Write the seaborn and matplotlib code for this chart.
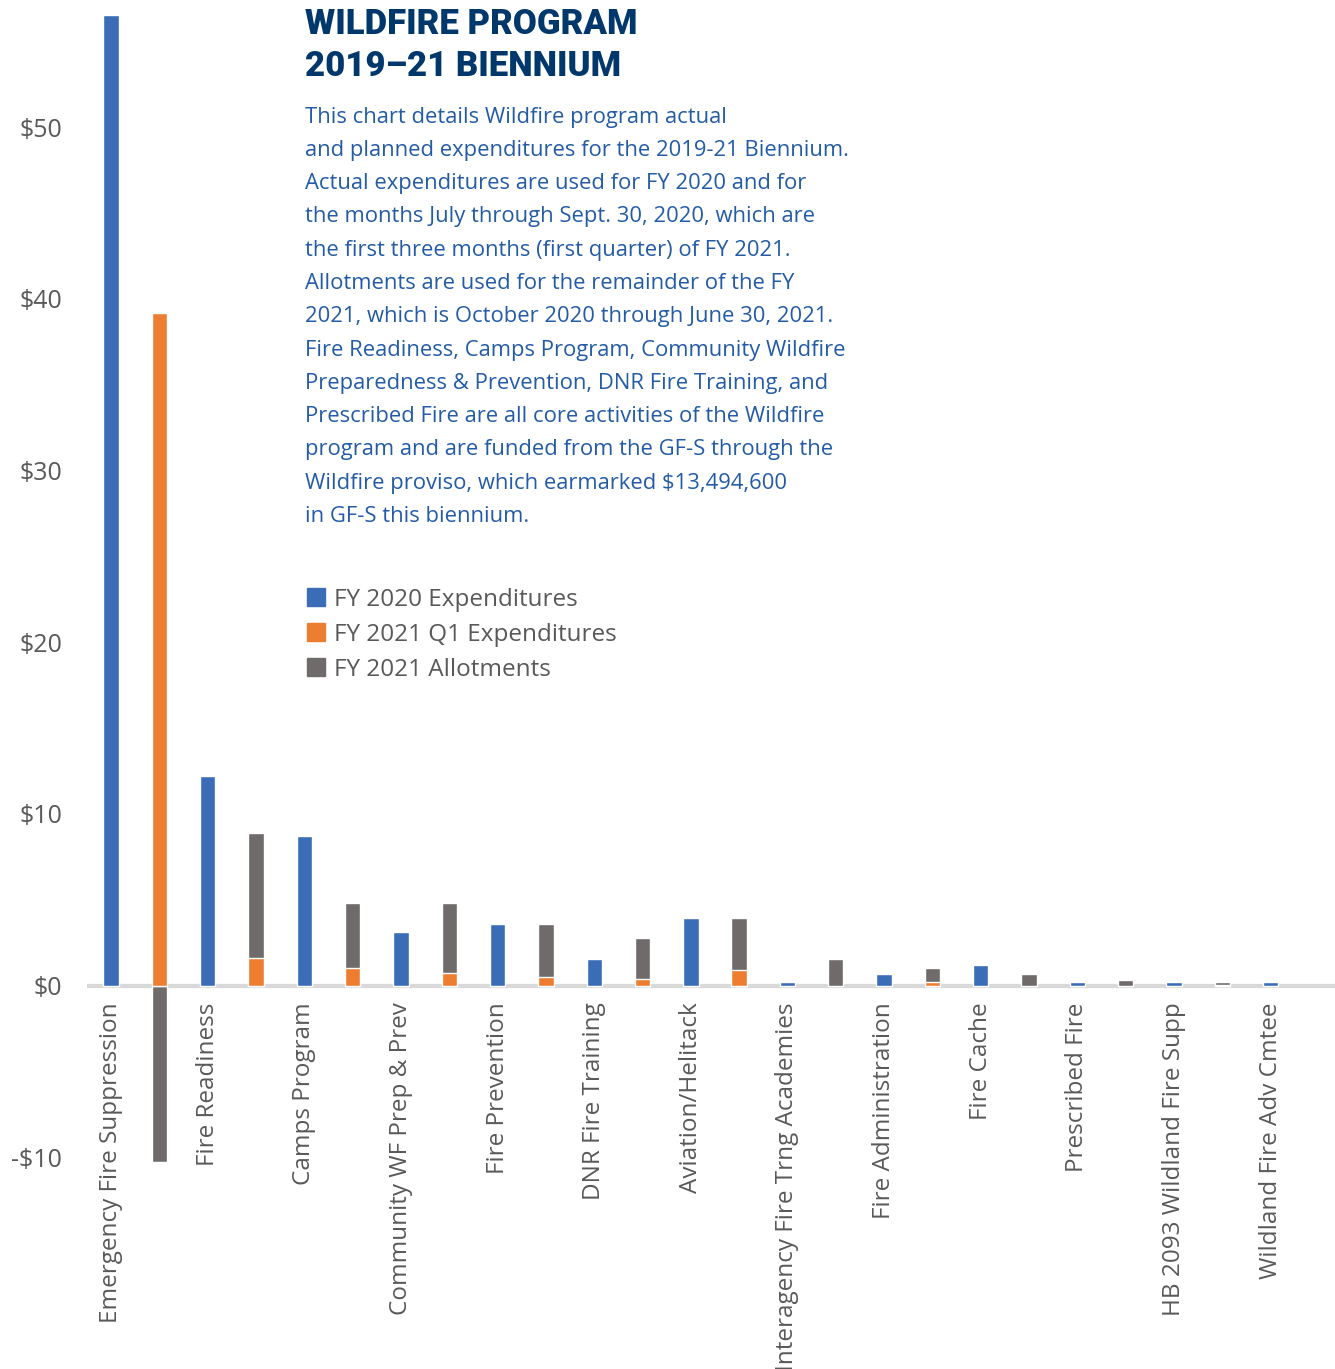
#grafico a barre del programma Wildfire (valori in milioni di dollari)
import matplotlib.pyplot as plt
import pandas as pd
import seaborn as sns
from matplotlib.patches import Patch

programs = ['Emergency Fire Suppression', 'Fire Readiness', 'Camps Program',
            'Community WF Prep & Prev', 'Fire Prevention', 'DNR Fire Training',
            'Aviation/Helitack', 'Interagency Fire Trng Academies',
            'Fire Administration', 'Fire Cache', 'Prescribed Fire',
            'HB 2093 Wildland Fire Supp', 'Wildland Fire Adv Cmtee']
fy2020 = [56.5, 12.2, 8.7, 3.1, 3.6, 1.55, 3.95, 0.2, 0.7, 1.2, 0.2, 0.2, 0.2]
fy2021_q1 = [39.2, 1.6, 1.05, 0.75, 0.5, 0.4, 0.9, 0.0, 0.2, 0.0, 0.0, 0.05, 0.0]
fy2021_allot = [-10.25, 7.3, 3.75, 4.05, 3.1, 2.35, 3.05, 1.55, 0.85, 0.7, 0.35, 0.15, 0.0]

blue = '#3b6db6'
orange = '#ed7d31'
gray = '#706b6b'

#ogni programma ha due posizioni: FY 2020 e FY 2021
slots = ['s%d' % i for i in range(2 * len(programs))]
rows = []
for i in range(len(programs)):
    allot = fy2021_allot[i]
    #allotments impilati sopra Q1 se positivi, altrimenti sotto lo zero
    total = fy2021_q1[i] + allot if allot >= 0 else allot
    rows.append({'slot': slots[2 * i], 'serie': 'FY 2020 Expenditures', 'valore': fy2020[i]})
    rows.append({'slot': slots[2 * i + 1], 'serie': 'FY 2021 Allotments', 'valore': total})
    rows.append({'slot': slots[2 * i + 1], 'serie': 'FY 2021 Q1 Expenditures', 'valore': fy2021_q1[i]})
df = pd.DataFrame(rows)

sns.set_style('white')
plt.rcParams['font.family'] = ['Open Sans', 'DejaVu Sans']

fig = plt.figure(figsize=(13.35, 13.69), dpi=100)
ax = fig.add_axes([87 / 1335, 1 - 1166 / 1369, 1256 / 1335, 1166 / 1369])

for serie, col in [('FY 2020 Expenditures', blue), ('FY 2021 Allotments', gray),
                   ('FY 2021 Q1 Expenditures', orange)]:
    sub = df[(df['serie'] == serie) & (df['valore'] != 0)]
    sns.barplot(data=sub, x='slot', y='valore', order=slots, color=col,
                width=0.32, saturation=1, ax=ax, errorbar=None)

ax.set_xlim(-0.5, len(slots) - 0.5)
ax.set_ylim(-10.5, 57.4)
ax.set_xlabel('')
ax.set_ylabel('')

#etichette asse x solo sotto le barre FY 2020, attaccate alla linea dello zero
ax.spines['bottom'].set_position(('data', 0))
ax.set_xticks(range(0, len(slots), 2))
ax.set_xticklabels(programs, rotation=90, fontsize=17.5, color='#595959')
yt = [-10, 0, 10, 20, 30, 40, 50]
ax.set_yticks(yt)
ax.set_yticklabels([('-\\$%d' % -v) if v < 0 else ('\\$%d' % v) for v in yt],
                   fontsize=18, color='#595959')
ax.tick_params(length=0)
ax.tick_params(axis='y', pad=18)
ax.tick_params(axis='x', pad=12)

for s in ax.spines.values():
    s.set_visible(False)
ax.axhline(0, color='#d9d9d9', lw=3, zorder=0.5)

#titolo e testo descrittivo
fig.text(305 / 1335, 1 - 25 / 1369, 'WILDFIRE PROGRAM', fontsize=25, fontweight='black',
         color='#00386b', va='center', family=['Roboto', 'DejaVu Sans'])
fig.text(305 / 1335, 1 - 66 / 1369, '2019\u201321 BIENNIUM', fontsize=25, fontweight='black',
         color='#00386b', va='center', family=['Roboto', 'DejaVu Sans'])

lines = ['This chart details Wildfire program actual',
         'and planned expenditures for the 2019-21 Biennium.',
         'Actual expenditures are used for FY 2020 and for',
         'the months July through Sept. 30, 2020, which are',
         'the first three months (first quarter) of FY 2021.',
         'Allotments are used for the remainder of the FY',
         '2021, which is October 2020 through June 30, 2021.',
         'Fire Readiness, Camps Program, Community Wildfire',
         'Preparedness & Prevention, DNR Fire Training, and',
         'Prescribed Fire are all core activities of the Wildfire',
         'program and are funded from the GF-S through the',
         'Wildfire proviso, which earmarked \\$13,494,600',
         'in GF-S this biennium.']
for i, line in enumerate(lines):
    fig.text(305 / 1335, 1 - (117 + i * 33.3) / 1369, line, fontsize=15.8,
             color='#235ba6', va='center')

handles = [Patch(color=blue), Patch(color=orange), Patch(color=gray)]
labels = ['FY 2020 Expenditures', 'FY 2021 Q1 Expenditures', 'FY 2021 Allotments']
fig.legend(handles, labels, loc='upper left', bbox_to_anchor=(285 / 1335, 1 - 566 / 1369),
           frameon=False, fontsize=17.5, labelcolor='#595959', handlelength=0.75,
           handleheight=0.75, handletextpad=0.35, labelspacing=0.45)

plt.savefig('out.png', dpi=100)
